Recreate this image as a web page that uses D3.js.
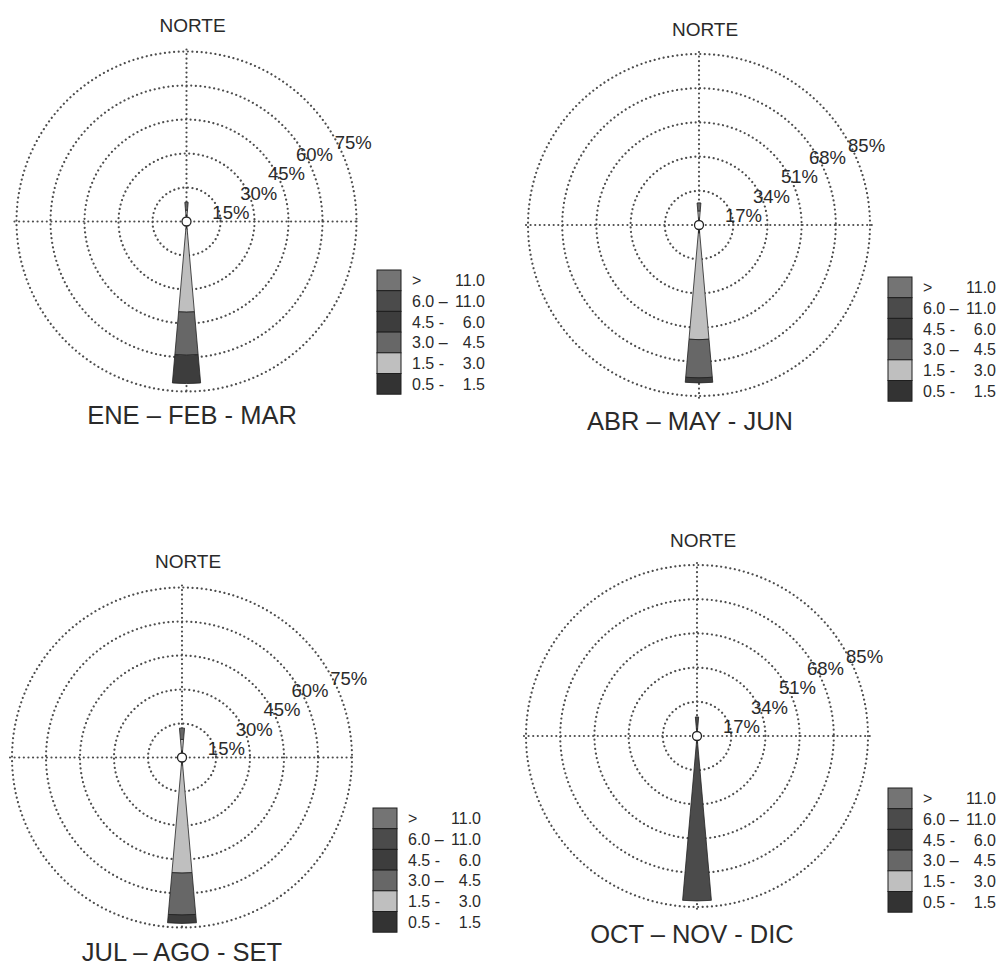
<!DOCTYPE html>
<html>
<head>
<meta charset="utf-8">
<script src="https://cdn.jsdelivr.net/npm/d3@7"></script>
<style>
  html, body { margin: 0; padding: 0; background: #ffffff; }
  svg { display: block; }
  text { font-family: "Liberation Sans", Arial, Helvetica, sans-serif; fill: #2a2a2a; }
</style>
</head>
<body>
<svg id="chart" width="1006" height="965"></svg>
<script>
// ---------------- DATA ----------------
const seasons = ["ENE – FEB - MAR", "ABR – MAY - JUN", "JUL – AGO - SET", "OCT – NOV - DIC"];
const northLabel = "NORTE";

// speed classes (m/s), from lowest to highest
const speedClasses = ["0.5 - 1.5", "1.5 - 3.0", "3.0 - 4.5", "4.5 - 6.0", "6.0 - 11.0", "> 11.0"];
const classColors = ["#333333", "#bfbfbf", "#676767", "#3d3d3d", "#4b4b4b", "#747474"];
// legend text, listed top to bottom (highest class first)
const legendLeft  = [">", "6.0 –", "4.5 -", "3.0 –", "1.5 -", "0.5 -"];
const legendRight = ["11.0", "11.0", "6.0", "4.5", "3.0", "1.5"];

// ring tick labels (% frequency)
const ringTicksA = [15, 30, 45, 60, 75];
const ringTicksB = [17, 34, 51, 68, 85];

// directions (degrees from north) that carry frequency
const directions = [0, 180];   // N, S

// frequency (%) per speed class, lowest class first
const eneMarN = [3, 2, 3.5, 0, 0, 0];
const eneMarS = [3, 37, 19, 12.5, 0, 0];
const abrJunN = [3, 4, 4, 0, 0, 0];
const abrJunS = [4, 53, 19, 2.5, 0, 0];
const julSetN = [3, 5, 5, 0, 0, 0];
const julSetS = [3, 48, 18.5, 3.7, 0, 0];
const octDicN = [0, 0, 0, 0, 9.5, 0];
const octDicS = [0, 0, 0, 0, 82, 0];

// ---------------- LAYOUT ----------------
const panels = [
  { title: seasons[0], ticks: ringTicksA, dirs: [eneMarN, eneMarS], cx: 186.5, cy: 221.5, R: 170,
    norteY: 32, titleX: 192, titleY: 424, legX: 377, legY: 270 },
  { title: seasons[1], ticks: ringTicksB, dirs: [abrJunN, abrJunS], cx: 699, cy: 225, R: 171,
    norteY: 36, titleX: 690, titleY: 430, legX: 888, legY: 277 },
  { title: seasons[2], ticks: ringTicksA, dirs: [julSetN, julSetS], cx: 182, cy: 757.5, R: 170,
    norteY: 568, titleX: 182, titleY: 961, legX: 373, legY: 808 },
  { title: seasons[3], ticks: ringTicksB, dirs: [octDicN, octDicS], cx: 697, cy: 736, R: 171,
    norteY: 547, titleX: 692, titleY: 943, legX: 888, legY: 788 }
];

const svg = d3.select("#chart");
const rowH = 20.7, boxW = 24;
const deg = Math.PI / 180;
const color = d3.scaleOrdinal().domain(speedClasses).range(classColors);

panels.forEach(p => {
  const g = svg.append("g").attr("transform", `translate(${p.cx},${p.cy})`);
  const maxV = p.ticks[p.ticks.length - 1];
  const r = d3.scaleLinear().domain([0, maxV]).range([0, p.R]);

  const dotted = sel => sel.attr("fill", "none").attr("stroke", "#4d4d4d")
      .attr("stroke-width", 2.2).attr("stroke-linecap", "round")
      .attr("stroke-dasharray", "0.01 4.6");

  // rings
  g.selectAll("circle.ring").data(p.ticks).join("circle")
    .attr("class", "ring").attr("r", d => r(d)).call(dotted);

  // cross lines
  g.append("line").attr("x1", -p.R - 2).attr("x2", p.R + 2).attr("y1", 0).attr("y2", 0).call(dotted);
  g.append("line").attr("y1", -p.R - 2).attr("y2", p.R + 2).attr("x1", 0).attr("x2", 0).call(dotted);

  // petals
  const arc = d3.arc();
  directions.forEach((dir, i) => {
    const vals = p.dirs[i];
    const stack = [];
    let cum = 0;
    vals.forEach((v, k) => {
      if (v > 0) stack.push({ k, inner: cum, outer: cum + v });
      cum += v;
    });
    g.selectAll(null).data(stack).join("path")
      .attr("d", d => arc({
        innerRadius: r(d.inner), outerRadius: r(d.outer),
        startAngle: (dir - 5) * deg, endAngle: (dir + 5) * deg
      }))
      .attr("fill", d => color(speedClasses[d.k]))
      .attr("stroke", "#222").attr("stroke-width", 0.8).attr("stroke-linejoin", "round");
  });

  // calm circle
  g.append("circle").attr("r", 4.5).attr("fill", "#fff").attr("stroke", "#222").attr("stroke-width", 1.3);

  // ring labels
  p.ticks.forEach((t, i) => {
    const outer = i === p.ticks.length - 1;
    const a = (outer ? 30 : 35) * deg;
    const rr = r(t);
    g.append("text")
      .attr("x", rr * Math.cos(a) + (outer ? 1 : -2))
      .attr("y", -rr * Math.sin(a) + (outer ? 12 : 17))
      .attr("font-size", 18.5)
      .attr("fill", "#3a3a3a")
      .text(t + "%");
  });

  // NORTE
  svg.append("text").attr("x", p.cx + 6).attr("y", p.norteY)
    .attr("text-anchor", "middle").attr("font-size", 19).text(northLabel);

  // season title
  svg.append("text").attr("x", p.titleX).attr("y", p.titleY)
    .attr("text-anchor", "middle").attr("font-size", 25.5).text(p.title);

  // legend
  const lg = svg.append("g").attr("transform", `translate(${p.legX},${p.legY})`);
  const order = speedClasses.slice().reverse();
  lg.selectAll("rect").data(order).join("rect")
    .attr("x", 0).attr("y", (d, i) => i * rowH)
    .attr("width", boxW).attr("height", rowH)
    .attr("fill", d => color(d)).attr("stroke", "#1e1e1e").attr("stroke-width", 1);
  lg.selectAll("text.l").data(legendLeft).join("text").attr("class", "l")
    .attr("x", boxW + 11).attr("y", (d, i) => i * rowH + rowH / 2 + 6)
    .attr("font-size", 16).attr("fill", "#333").text(d => d);
  lg.selectAll("text.r").data(legendRight).join("text").attr("class", "r")
    .attr("x", boxW + 84).attr("y", (d, i) => i * rowH + rowH / 2 + 6)
    .attr("text-anchor", "end")
    .attr("font-size", 16).attr("fill", "#333").text(d => d);
});
</script>
</body>
</html>
